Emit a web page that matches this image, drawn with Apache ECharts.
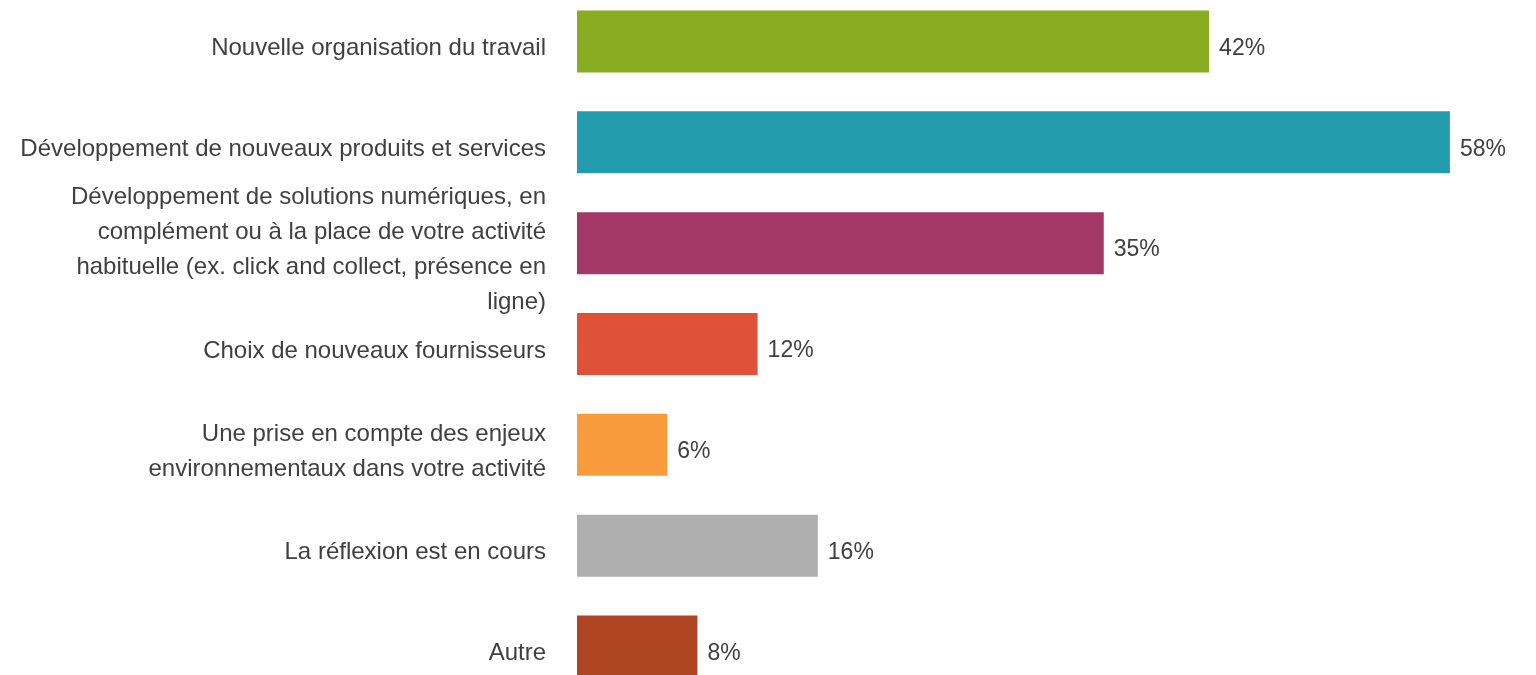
<!DOCTYPE html>
<html>
<head>
<meta charset="utf-8">
<script src="https://cdn.jsdelivr.net/npm/echarts@6/dist/echarts.min.js"></script>
<style>
  html, body { margin: 0; padding: 0; background: #fff; }
  #chart { width: 1536px; height: 675px; }
</style>
</head>
<body>
<div id="chart"></div>
<script>
// categories (top to bottom)
const categories = [
  'Nouvelle organisation du travail',
  'Développement de nouveaux produits et services',
  'Développement de solutions numériques, en\ncomplément ou à la place de votre activité\nhabituelle (ex. click and collect, présence en\nligne)',
  'Choix de nouveaux fournisseurs',
  'Une prise en compte des enjeux\nenvironnementaux dans votre activité',
  'La réflexion est en cours',
  'Autre'
]
const values = [42, 58, 35, 12, 6, 16, 8]
const colors = ['#8aac23', '#239dae', '#a33766', '#df5138', '#f89b3d', '#afafaf', '#ae4421']

const myChart = echarts.init(document.getElementById('chart'))

const option = {
  animation: false,
  textStyle: { fontFamily: 'Liberation Sans, Arial, sans-serif' },
  grid: {
    left: 577,
    right: 56,
    top: -9,
    height: 706,
    outerBoundsMode: 'none',
    containLabel: false
  },
  xAxis: {
    type: 'value',
    min: 0,
    max: 60,
    show: false
  },
  yAxis: {
    type: 'category',
    data: categories,
    inverse: true,
    axisLine: { show: false },
    axisTick: { show: false },
    axisLabel: {
      margin: 31,
      align: 'right',
      // empty spacer line on top pushes the text a little lower, like the original
      formatter: v => '{s| }\n' + v.split('\n').map(l => '{t|' + l + '}').join('\n'),
      rich: {
        s: { fontSize: 1, lineHeight: 14 },
        t: { color: '#404040', fontSize: 24, lineHeight: 35, align: 'right' }
      }
    }
  },
  series: [
    {
      type: 'bar',
      barWidth: 62,
      data: values.map((v, i) => ({
        value: v,
        itemStyle: { color: colors[i] }
      })),
      label: {
        show: true,
        position: 'right',
        distance: 10,
        offset: [0, 7],
        color: '#404040',
        fontSize: 23,
        formatter: '{c}%'
      }
    }
  ]
}

myChart.setOption(option)
</script>
</body>
</html>
